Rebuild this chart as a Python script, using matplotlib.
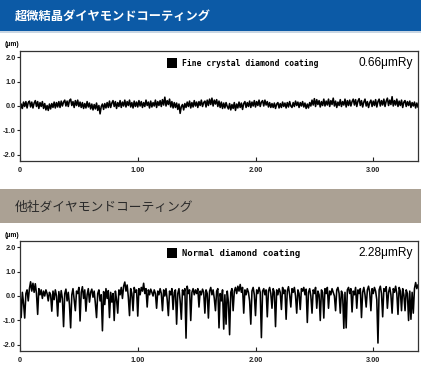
import numpy as np
import matplotlib
matplotlib.use('Agg')
import matplotlib.pyplot as plt
from matplotlib.patches import Rectangle

# 表面粗さプロファイル (μm), 0.01 mm 間隔で読み取った値
step = 0.01

fine_profile = [
    -0.20, 0.08, -0.10, 0.16, -0.02, 0.18, -0.08, 0.14, 0.20, -0.04, 0.16, -0.08, 0.12, 0.22, -0.02, 0.18, -0.10, 0.14, -0.02, 0.18,
    -0.10, 0.10, -0.16, 0.02, -0.18, 0.08, -0.12, 0.10, -0.06, 0.16, -0.08, 0.14, -0.04, 0.18, -0.06, 0.20, 0.00, 0.16, 0.24, 0.00,
    0.20, -0.02, 0.22, 0.28, 0.02, 0.18, -0.06, 0.22, 0.02, 0.24, -0.02, 0.16, -0.06, 0.14, -0.10, 0.10, -0.08, 0.18, -0.04, 0.12,
    -0.12, 0.08, -0.16, 0.06, -0.12, 0.12, -0.18, 0.02, -0.32, -0.02, 0.08, -0.14, 0.10, -0.08, 0.14, -0.06, 0.20, -0.06, 0.12, 0.22,
    -0.02, 0.18, -0.10, 0.14, -0.02, 0.22, -0.06, 0.16, 0.00, 0.24, -0.04, 0.18, 0.02, 0.24, -0.04, 0.14, -0.08, 0.20, -0.02, 0.16,
    -0.04, 0.22, 0.00, 0.18, -0.06, 0.14, -0.02, 0.24, 0.02, 0.16, -0.08, 0.20, -0.04, 0.14, 0.00, 0.24, -0.06, 0.18, 0.02, 0.22,
    -0.02, 0.26, 0.04, 0.36, 0.00, 0.22, 0.06, 0.28, -0.04, 0.18, -0.08, 0.14, -0.06, 0.12, -0.14, 0.08, -0.30, -0.02, 0.06, -0.16,
    0.10, -0.06, 0.16, -0.02, 0.20, -0.08, 0.14, -0.04, 0.22, 0.00, 0.16, -0.06, 0.18, 0.02, 0.24, -0.02, 0.14, 0.20, -0.04, 0.24,
    0.02, 0.28, 0.06, 0.32, 0.00, 0.24, 0.08, 0.26, -0.02, 0.20, -0.06, 0.16, -0.10, 0.12, -0.08, 0.14, -0.02, -0.12, 0.10, -0.16,
    0.06, -0.10, 0.14, -0.18, 0.08, -0.08, 0.16, -0.06, 0.12, -0.14, 0.10, 0.18, -0.06, 0.14, -0.02, 0.20, -0.06, 0.16, 0.00, 0.22,
    -0.04, 0.18, 0.02, 0.24, -0.02, 0.16, 0.22, 0.00, 0.24, 0.04, 0.18, -0.04, 0.14, -0.06, 0.10, -0.06, 0.12, -0.10, 0.08, 0.14,
    -0.08, 0.10, -0.06, 0.16, -0.02, 0.12, -0.08, 0.14, -0.04, 0.18, 0.00, -0.06, 0.14, -0.02, 0.20, 0.02, 0.16, -0.06, 0.14, 0.00,
    0.18, -0.04, 0.12, -0.10, 0.08, -0.08, 0.14, 0.00, 0.24, 0.04, 0.30, -0.02, 0.26, 0.06, 0.22, -0.04, 0.18, 0.02, 0.28, 0.00,
    0.20, 0.04, 0.28, -0.02, 0.22, 0.06, 0.32, 0.00, 0.20, -0.06, 0.16, 0.02, 0.26, -0.02, 0.18, 0.04, 0.28, -0.04, 0.22, 0.02,
    0.24, 0.00, 0.18, 0.28, 0.04, 0.26, -0.02, 0.20, 0.30, 0.02, 0.22, -0.04, 0.16, 0.28, 0.00, 0.18, -0.06, 0.14, 0.24, -0.02,
    0.20, 0.02, 0.26, -0.04, 0.18, 0.28, 0.00, 0.22, 0.04, 0.28, -0.02, 0.20, 0.32, 0.02, 0.24, 0.06, 0.38, 0.00, 0.22, 0.04,
    0.28, -0.02, 0.20, 0.02, 0.24, -0.06, 0.16, 0.22, -0.02, 0.18, 0.02, 0.20, -0.06, 0.14, 0.00, 0.16, -0.08, 0.12, -0.04,
]

normal_profile = [
    0.20, -0.88, 0.15, -0.30, -0.90, 0.10, 0.25, -0.20, 0.30, 0.58, 0.20, 0.52, 0.15, 0.50, 0.10, -0.75, 0.30, 0.05, 0.25, -0.10,
    0.20, 0.00, 0.25, 0.10, -0.20, 0.15, 0.05, -0.62, 0.20, -0.15, 0.25, 0.00, -0.82, 0.18, -0.25, 0.22, -0.10, -1.25, 0.10, 0.28,
    -0.20, 0.15, -0.35, -1.30, 0.05, 0.30, -0.15, -0.60, 0.20, 0.10, 0.35, -1.02, 0.15, 0.38, -0.10, 0.25, -0.62, 0.05, 0.30, -0.25,
    0.15, 0.28, -0.05, 0.20, -0.30, -0.88, 0.10, 0.25, -0.20, 0.05, -1.42, 0.18, -0.35, 0.30, -0.10, 0.22, -0.88, 0.15, -0.25, 0.10,
    -1.00, 0.20, -0.15, -0.70, 0.25, 0.05, 0.35, -0.10, 0.40, 0.57, 0.20, 0.45, -0.05, -0.80, 0.30, 0.10, -0.60, 0.35, 0.15, 0.25,
    -0.82, 0.30, 0.05, 0.35, 0.20, 0.52, 0.10, 0.30, -0.45, 0.25, 0.05, 0.28, 0.15, 0.00, 0.25, 0.10, -0.50, 0.20, 0.05, 0.30,
    0.10, -0.60, 0.25, 0.00, 0.30, -0.15, -0.80, 0.20, 0.05, 0.30, -0.55, 0.15, 0.25, -1.15, 0.10, 0.30, -0.20, -0.95, 0.25, 0.05,
    0.30, -1.72, 0.40, 0.10, 0.25, -1.00, 0.15, 0.30, 0.05, 0.25, 0.10, 0.30, -0.45, 0.20, 0.05, 0.28, 0.15, -0.70, 0.25, 0.10,
    -0.90, 0.20, 0.35, 0.05, 0.25, -0.10, -0.60, 0.20, 0.30, -1.30, 0.10, -0.20, 0.25, -1.35, 0.05, -1.15, 0.20, -0.25, -1.58, 0.15,
    0.30, -0.60, 0.20, 0.35, 0.10, 0.40, 0.20, 0.47, 0.15, 0.35, -0.70, 0.25, 0.05, 0.30, 0.15, -0.20, -1.15, 0.20, 0.35, 0.05,
    -0.80, 0.25, 0.10, 0.35, 0.15, -1.70, 0.20, 0.30, 0.05, 0.25, -0.85, 0.20, 0.35, 0.10, -0.50, 0.30, 0.15, -1.25, 0.25, 0.05,
    0.30, 0.15, -0.55, 0.35, 0.10, 0.25, -0.95, 0.20, 0.38, 0.05, -0.45, 0.30, 0.15, 0.35, 0.00, -0.70, 0.25, 0.10, -0.55, 0.30,
    0.20, 0.35, 0.05, 0.28, -1.08, 0.15, 0.30, 0.00, -0.70, 0.25, 0.10, 0.35, -0.50, 0.20, 0.05, -1.00, 0.25, 0.15, -0.90, 0.30,
    0.10, 0.35, -0.50, 0.20, 0.05, 0.30, 0.15, 0.00, -0.60, 0.25, 0.35, 0.10, -0.70, 0.20, 0.05, -1.32, 0.15, -1.30, 0.25, 0.35,
    0.10, 0.30, -0.65, 0.20, 0.05, 0.35, -0.50, 0.25, 0.10, 0.30, -0.88, 0.15, 0.35, 0.05, -0.45, 0.25, 0.40, 0.15, -0.60, 0.30,
    0.10, 0.35, 0.20, -0.15, -1.92, 0.25, 0.40, 0.10, -0.85, 0.30, 0.20, 0.38, -0.50, 0.15, 0.35, 0.05, -0.70, 0.30, 0.15, 0.40,
    0.10, -0.75, 0.35, 0.20, -0.60, 0.30, 0.05, -0.60, 0.25, 0.10, -1.00, 0.20, -0.95, 0.15, -0.70, 0.30, 0.55, 0.30, 0.45,
]

y_ticks = [2.0, 1.0, 0.0, -1.0, -2.0]
y_tick_labels = ['2.0', '1.0', '0.0', '-1.0', '-2.0']
x_ticks = [0, 1.0, 2.0, 3.0]
x_tick_labels = ['0', '1.00', '2.00', '3.00']

headers = ['超微結晶ダイヤモンドコーティング', '他社ダイヤモンドコーティング']
legend_names = ['Fine crystal diamond coating', 'Normal diamond coating']
ry_labels = ['0.66\u03bcmRy', '2.28\u03bcmRy']

W, H = 421, 371
fig = plt.figure(figsize=(W / 100, H / 100), dpi=100)
fig.patch.set_facecolor('white')

def fy(px):
    # ピクセル位置(上から) -> figure座標
    return 1 - px / H

# ヘッダー帯
fig.patches.append(Rectangle((0, fy(31)), 1, 31 / H, transform=fig.transFigure,
                             facecolor='#0c5aa6', edgecolor='none'))
fig.patches.append(Rectangle((0, fy(33)), 1, 2 / H, transform=fig.transFigure,
                             facecolor='#c9d6e3', edgecolor='none'))
fig.patches.append(Rectangle((0, fy(223)), 1, 34 / H, transform=fig.transFigure,
                             facecolor='#aba194', edgecolor='none'))
fig.text(15 / W, fy(16), headers[0], color='white', fontsize=8.8, fontweight='bold',
         family=['Noto Sans CJK JP', 'DejaVu Sans'], va='center', ha='left')
fig.text(15 / W, fy(207), headers[1], color='#2a2a2a', fontsize=9.2,
         family=['Noto Sans CJK JP', 'DejaVu Sans'], va='center', ha='left')

profiles = [fine_profile, normal_profile]
tops = [51, 241]
legend_sizes = [5.8, 6.4]

for k in range(2):
    y = np.array(profiles[k])
    x = np.arange(len(y)) * step
    top = tops[k]
    ax = fig.add_axes([20 / W, fy(top + 110), 398 / W, 110 / H])
    ax.plot(x, y, color='black', lw=1.15)
    ax.set_xlim(0, 3.38)
    ax.set_ylim(-2.245, 2.245)
    ax.set_yticks(y_ticks)
    ax.set_yticklabels(y_tick_labels, fontsize=5.3, fontweight='bold',
                       family='Liberation Sans')
    ax.set_xticks(x_ticks)
    ax.set_xticklabels(x_tick_labels, fontsize=5.3, fontweight='bold',
                       family='Liberation Sans')
    ax.tick_params(axis='y', direction='out', length=2, width=0.8, pad=1, colors='#222')
    ax.tick_params(axis='x', direction='in', length=3, width=0.8, pad=4, colors='#222')
    for sp in ax.spines.values():
        sp.set_color('#333')
        sp.set_linewidth(0.9)
    fig.text(5 / W, fy(top - 6), '(\u03bcm)', fontsize=4.8, fontweight='bold',
             family='Liberation Sans', ha='left', va='center')
    # 凡例
    ax.add_patch(Rectangle((147 / 398, 1 - 17 / 110), 10 / 398, 10 / 110,
                           transform=ax.transAxes, facecolor='black', edgecolor='none'))
    ax.text(162 / 398, 1 - 12 / 110, legend_names[k], transform=ax.transAxes,
            fontsize=legend_sizes[k], fontweight='bold', family='DejaVu Sans Mono',
            va='center', ha='left')
    ax.text(393 / 398, 1 - 12 / 110, ry_labels[k], transform=ax.transAxes,
            fontsize=8.6, family='Liberation Sans', va='center', ha='right')

fig.savefig('out.png', dpi=100)
